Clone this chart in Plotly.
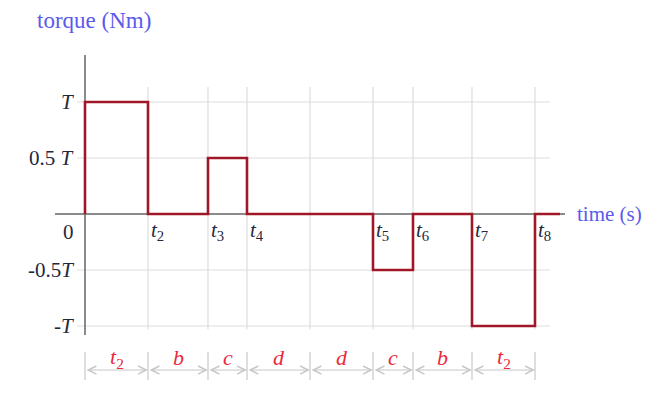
import plotly.graph_objects as go

# ---- data ----
time_marks = [0, 6.3, 12.3, 16.2, 22.5, 28.8, 32.8, 38.7, 45.0]   # segment boundaries
segment_torque = [1, 0, 0.5, 0, 0, -0.5, 0, -1]                    # torque on each segment (units of T)
time_end = 47.5
x_tick_labels = ["", "<i>t</i><sub>2</sub>", "<i>t</i><sub>3</sub>", "<i>t</i><sub>4</sub>", "",
                 "<i>t</i><sub>5</sub>", "<i>t</i><sub>6</sub>", "<i>t</i><sub>7</sub>", "<i>t</i><sub>8</sub>"]
segment_labels = ["<i>t</i><sub>2</sub>", "<i>b</i>", "<i>c</i>", "<i>d</i>", "<i>d</i>",
                  "<i>c</i>", "<i>b</i>", "<i>t</i><sub>2</sub>"]
y_ticks = [1, 0.5, 0, -0.5, -1]
y_tick_labels = ["<i>T</i>", "0.5 <i>T</i>", "0", "-0.5<i>T</i>", "-<i>T</i>"]

# ---- styling ----
FONT = "Liberation Serif, Times New Roman, serif"
RED = "rgb(160,24,40)"
LABEL_RED = "rgb(235,40,60)"
BLUE = "rgb(90,90,235)"
DARK = "rgb(35,40,60)"
GRID = "rgb(221,221,221)"
AXIS = "rgb(100,100,100)"
DIM = "rgb(200,200,200)"

# page has an 8px body margin, so the figure is drawn 8px in from the window edge
W, H = 639, 378

x_step = [0] + time_marks[:-1] + [time_marks[-1], time_end]
y_step = [0] + segment_torque + [0, 0]

fig = go.Figure()
fig.add_trace(go.Scatter(x=x_step, y=y_step, mode="lines", line=dict(shape="hv", color=RED, width=2.6),
                         hoverinfo="skip", showlegend=False))

shapes = []
for yv in y_ticks:
    if yv != 0:
        shapes.append(dict(type="line", xref="x", yref="y", x0=-0.8, x1=46.5, y0=yv, y1=yv,
                           line=dict(color=GRID, width=1.2), layer="below"))
for xv in time_marks[1:]:
    shapes.append(dict(type="line", xref="x", yref="y", x0=xv, x1=xv, y0=1.134, y1=-1.03,
                       line=dict(color=GRID, width=1.2), layer="below"))
shapes.append(dict(type="line", xref="x", yref="y", x0=0, x1=0, y0=1.42, y1=-1.08,
                   line=dict(color=AXIS, width=1.5), layer="below"))
shapes.append(dict(type="line", xref="x", yref="y", x0=-3, x1=48, y0=0, y1=0,
                   line=dict(color=AXIS, width=1.5), layer="below"))
DIM_Y = -1.393
for xv in time_marks:
    shapes.append(dict(type="line", xref="x", yref="y", x0=xv, x1=xv, y0=-1.232, y1=-1.482,
                       line=dict(color=DIM, width=1.2)))

annotations = []
for i, lab in enumerate(segment_labels):
    a, b = time_marks[i], time_marks[i + 1]
    annotations.append(dict(x=b, y=DIM_Y, ax=a, ay=DIM_Y, xref="x", yref="y", axref="x", ayref="y",
                            text="", showarrow=True, arrowside="end+start", arrowhead=5,
                            arrowsize=1.6, arrowwidth=1, arrowcolor=DIM, standoff=0, startstandoff=0))
    annotations.append(dict(x=(a + b) / 2, y=-1.285, xref="x", yref="y", text=lab, showarrow=False,
                            font=dict(family=FONT, size=22, color=LABEL_RED)))
for xv, lab in zip(time_marks, x_tick_labels):
    if lab:
        annotations.append(dict(x=xv, y=0, xref="x", yref="y", text=lab, showarrow=False,
                                xanchor="left", yanchor="middle", xshift=1, yshift=-17,
                                font=dict(family=FONT, size=21, color=DARK)))
for yv, lab in zip(y_ticks, y_tick_labels):
    annotations.append(dict(x=0, y=yv, xref="x", yref="y", text=lab, showarrow=False,
                            xanchor="right", yanchor="middle", xshift=-9,
                            yshift=-18 if yv == 0 else 0,
                            font=dict(family=FONT, size=21, color=DARK)))
annotations.append(dict(x=86 / W, y=1 - 12 / H, xref="paper", yref="paper", text="torque (Nm)",
                        showarrow=False, xanchor="center", yanchor="middle",
                        font=dict(family=FONT, size=23, color=BLUE)))
annotations.append(dict(x=49.0, y=0, xref="x", yref="y", text="time (s)", showarrow=False,
                        xanchor="left", yanchor="middle",
                        font=dict(family=FONT, size=21, color=BLUE)))

fig.update_layout(
    width=W, height=H,
    margin=dict(l=0, r=0, t=0, b=0),
    paper_bgcolor="white", plot_bgcolor="white",
    xaxis=dict(range=[-7.7, -7.7 + W / 10], visible=False, fixedrange=True),
    yaxis=dict(range=[-(H - 206) / 112, 206 / 112], visible=False, fixedrange=True),
    shapes=shapes, annotations=annotations, showlegend=False,
)
fig.write_html("out.html")
